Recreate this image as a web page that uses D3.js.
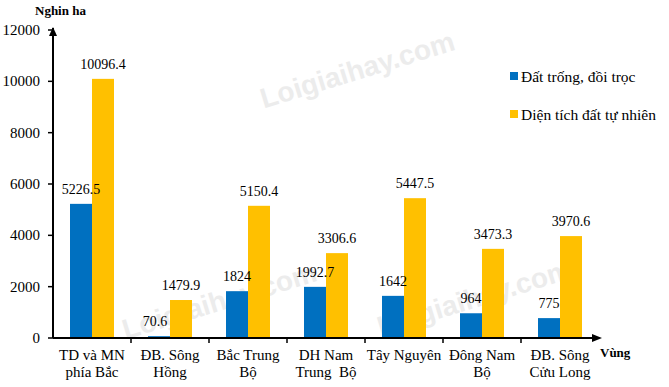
<!DOCTYPE html>
<html><head><meta charset="utf-8">
<script src="https://cdn.jsdelivr.net/npm/d3@7"></script>
<style>body{margin:0;background:#fff}svg{display:block}</style>
</head><body><svg id="c" width="669" height="387"></svg>
<script>
const categories = [["TD và MN","phía Bắc"],["ĐB. Sông","Hồng"],["Bắc Trung","Bộ"],["DH Nam","Trung\u00a0\u00a0Bộ"],["Tây Nguyên",""],["Đông Nam","Bộ"],["ĐB. Sông","Cửu Long"]];
const seriesNames = ["Đất trống, đồi trọc","Diện tích đất tự nhiên"];
const barren = [5226.5, 70.6, 1824, 1992.7, 1642, 964, 775];
const natural = [10096.4, 1479.9, 5150.4, 3306.6, 5447.5, 3473.3, 3970.6];
const barrenLabels = ["5226.5","70.6","1824","1992.7","1642","964","775"];
const naturalLabels = ["10096.4","1479.9","5150.4","3306.6","5447.5","3473.3","3970.6"];
const yTicks = [0,2000,4000,6000,8000,10000,12000];
const colors = ["#0070C0","#FFC000"];
const SERIF = "Liberation Serif";

const svg = d3.select("#c");
const x0 = 53, x1 = 599, yBot = 338, yTop = 30;
const x = d3.scaleBand().domain(d3.range(categories.length)).range([x0,x1]).paddingInner(0).paddingOuter(0);
const y = d3.scaleLinear().domain([0,12000]).range([yBot,yTop]);
const inner = d3.scaleBand().domain([0,1]).range([17, x.bandwidth()-17]);

// watermarks
const wm = [[358,72],[220,303],[475,300]];
svg.append("g").selectAll("text").data(wm).join("text")
  .attr("transform",d=>`translate(${d[0]},${d[1]}) rotate(-17)`)
  .attr("text-anchor","middle").attr("dominant-baseline","middle")
  .attr("font-family","Liberation Sans")
  .attr("font-weight","bold").attr("font-size","28px")
  .attr("fill","#ececec").text("Loigiaihay.com");

// bars
const g = svg.append("g");
const series = [barren, natural];
const labels = [barrenLabels, naturalLabels];
series.forEach((vals,si)=>{
  g.selectAll(".b"+si).data(vals).join("rect").attr("class","b"+si)
    .attr("x",(d,i)=>x(i)+inner(si)).attr("width",inner.bandwidth())
    .attr("y",d=>y(d)).attr("height",d=>yBot-y(d)).attr("fill",colors[si]);
});
const lgG = svg.append("g");
series.forEach((vals,si)=>{
  lgG.selectAll(".l"+si).data(vals).join("text").attr("class","l"+si)
    .attr("x",(d,i)=>x(i)+inner(si)+inner.bandwidth()/2 - (si===0&&d<200?4:0))
    .attr("y",d=>y(d)-10).attr("text-anchor","middle")
    .attr("font-family",SERIF).attr("font-size","14px").attr("fill","#000").text((d,i)=>labels[si][i]);
});

// y axis
const ya = svg.append("g");
ya.append("line").attr("x1",x0).attr("x2",x0).attr("y1",yBot).attr("y2",yTop-2).attr("stroke","#000").attr("stroke-width",2);
ya.append("path").attr("d",`M${x0-4},${yTop+6}L${x0},${yTop-3}L${x0+4},${yTop+6}Z`).attr("fill","#000");
ya.selectAll(".t").data(yTicks).join("line").attr("class","t").attr("x1",x0-5).attr("x2",x0).attr("y1",d=>y(d)).attr("y2",d=>y(d)).attr("stroke","#000").attr("stroke-width",1.5);
ya.selectAll(".tl").data(yTicks).join("text").attr("class","tl").attr("x",40).attr("y",d=>y(d)+5)
  .attr("text-anchor","end").attr("font-family",SERIF).attr("font-size","15px").text(d=>d);

// x axis
const xa = svg.append("g");
xa.append("line").attr("x1",x0).attr("x2",x1-2).attr("y1",yBot).attr("y2",yBot).attr("stroke","#000").attr("stroke-width",2);
xa.append("path").attr("d",`M${x1-7},${yBot-4}L${x1+3},${yBot}L${x1-7},${yBot+4}Z`).attr("fill","#000");
xa.selectAll(".t").data(d3.range(1,categories.length)).join("line").attr("class","t").attr("x1",i=>x(i)).attr("x2",i=>x(i)).attr("y1",yBot).attr("y2",yBot+5).attr("stroke","#000").attr("stroke-width",1.5);
categories.forEach((c,i)=>{
  const t = xa.append("text").attr("text-anchor","middle").attr("font-family",SERIF).attr("font-size","15px");
  t.append("tspan").attr("x",x(i)+x.bandwidth()/2).attr("y",360).text(c[0]);
  if(c[1]) t.append("tspan").attr("x",x(i)+x.bandwidth()/2).attr("y",377).text(c[1]);
});

// axis titles
svg.append("text").attr("x",35).attr("y",15).attr("font-family",SERIF).attr("font-size","13px").attr("font-weight","bold").text("Nghin ha");
svg.append("text").attr("x",600).attr("y",357).attr("font-family",SERIF).attr("font-size","13px").attr("font-weight","bold").text("Vùng");

// legend
const lg = svg.append("g");
seriesNames.forEach((n,i)=>{
  const yy = 82 + i*38;
  lg.append("rect").attr("x",510).attr("y",yy-10).attr("width",8).attr("height",8).attr("fill",colors[i]);
  lg.append("text").attr("x",521).attr("y",yy).attr("font-family",SERIF).attr("font-size","15.5px").text(n);
});
</script></body></html>
